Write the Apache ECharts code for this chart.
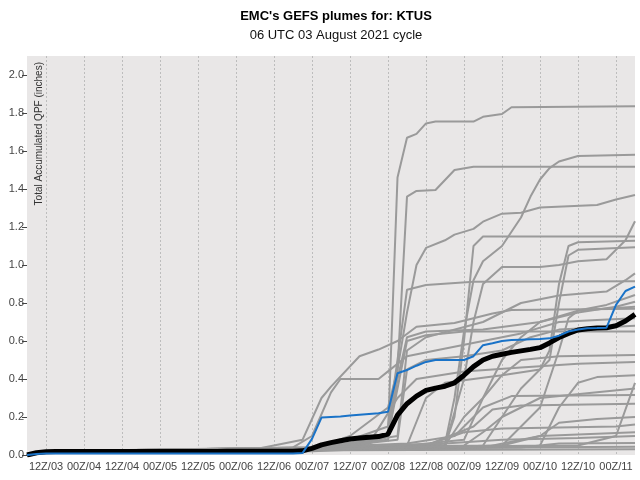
<!DOCTYPE html>
<html>
<head>
<meta charset="utf-8">
<script src="https://cdn.jsdelivr.net/npm/echarts@6/dist/echarts.min.js"></script>
<style>
html,body{margin:0;padding:0;background:#fff;}
#chart{width:640px;height:480px;}
</style>
</head>
<body>
<div id="chart"></div>
<script>
// 3-hourly valid times, 06Z/03 .. 06Z/11
var categories = [
 "06Z/03","09Z/03","12Z/03","15Z/03","18Z/03","21Z/03",
 "00Z/04","03Z/04","06Z/04","09Z/04","12Z/04","15Z/04","18Z/04","21Z/04",
 "00Z/05","03Z/05","06Z/05","09Z/05","12Z/05","15Z/05","18Z/05","21Z/05",
 "00Z/06","03Z/06","06Z/06","09Z/06","12Z/06","15Z/06","18Z/06","21Z/06",
 "00Z/07","03Z/07","06Z/07","09Z/07","12Z/07","15Z/07","18Z/07","21Z/07",
 "00Z/08","03Z/08","06Z/08","09Z/08","12Z/08","15Z/08","18Z/08","21Z/08",
 "00Z/09","03Z/09","06Z/09","09Z/09","12Z/09","15Z/09","18Z/09","21Z/09",
 "00Z/10","03Z/10","06Z/10","09Z/10","12Z/10","15Z/10","18Z/10","21Z/10",
 "00Z/11","03Z/11","06Z/11"
];
var yTicks = [0,0.2,0.4,0.6,0.8,1.0,1.2,1.4,1.6,1.8,2.0];

// ensemble mean (black), 3-hourly
var meanQPF = [0,0.012,0.017,0.018,0.018,0.018,0.018,0.018,0.018,0.018,0.018,0.018,0.018,0.018,0.018,0.018,
 0.018,0.018,0.018,0.018,0.018,0.02,0.02,0.02,0.02,0.02,0.02,0.02,0.02,0.022,0.035,0.053,0.065,0.075,0.084,
 0.089,0.093,0.097,0.11,0.21,0.27,0.31,0.34,0.352,0.362,0.38,0.42,0.465,0.5,0.52,0.53,0.54,0.548,0.556,0.565,
 0.59,0.618,0.64,0.658,0.665,0.668,0.67,0.68,0.705,0.74];
// control (blue), 3-hourly
var ctlQPF = [0,0.005,0.008,0.008,0.008,0.008,0.008,0.008,0.008,0.008,0.008,0.008,0.008,0.008,0.008,0.008,
 0.008,0.008,0.008,0.008,0.008,0.008,0.008,0.008,0.008,0.008,0.008,0.008,0.008,0.01,0.085,0.197,0.2,0.203,0.208,
 0.212,0.216,0.22,0.228,0.43,0.447,0.47,0.49,0.5,0.5,0.5,0.5,0.52,0.578,0.588,0.6,0.605,0.607,0.609,0.611,
 0.614,0.628,0.65,0.66,0.667,0.668,0.67,0.79,0.863,0.886];

// members: [step index (3h), value] at visible break points
var m01 = [[0,0],[2,0.02],[30,0.03],[36,0.07],[38,0.12],[39,1.46],[40,1.67],[41,1.69],[42,1.745],[43,1.755],[47,1.755],[48,1.78],[50,1.795],[51,1.83],[64,1.835]];
var m02 = [[0,0],[2,0.02],[30,0.03],[36,0.06],[38,0.1],[39,0.45],[40,1.36],[41,1.39],[43,1.395],[45,1.5],[47,1.517],[64,1.517]];
var m03 = [[0,0],[2,0.02],[30,0.02],[40,0.04],[44,0.06],[45,0.3],[46,0.65],[47,0.92],[48,1.02],[50,1.1],[52,1.25],[53,1.36],[54,1.45],[55,1.51],[56,1.545],[58,1.574],[64,1.58]];
var m04 = [[0,0],[2,0.02],[30,0.03],[34,0.1],[38,0.25],[39,0.45],[40,0.75],[41,1.0],[42,1.09],[44,1.13],[45,1.16],[47,1.19],[48,1.228],[50,1.27],[52,1.275],[54,1.303],[60,1.316],[62,1.345],[64,1.368]];
var m05 = [[0,0],[2,0.02],[30,0.03],[34,0.08],[38,0.15],[39,0.5],[40,0.87],[42,0.895],[47,0.912],[64,0.915]];
var m06 = [[0,0],[2,0.02],[24,0.03],[29,0.08],[31,0.3],[32,0.36],[35,0.52],[37,0.555],[39,0.6],[41,0.675],[45,0.695],[49,0.745],[51,0.763],[64,0.77]];
var m07 = [[0,0],[2,0.02],[30,0.03],[44,0.05],[45,0.2],[46,0.6],[47,1.1],[48,1.15],[64,1.15]];
var m08 = [[0,0],[2,0.02],[30,0.03],[40,0.05],[42,0.3],[44,0.38],[50,0.42],[54,0.45],[55,0.55],[56,0.9],[57,1.1],[58,1.12],[64,1.128]];
var m09 = [[0,0],[2,0.02],[30,0.03],[44,0.05],[46,0.4],[47,0.7],[48,0.9],[50,0.99],[54,0.99],[56,1.0],[58,1.02],[61,1.03],[63,1.13],[64,1.23]];
var m10 = [[0,0],[2,0.02],[30,0.03],[39,0.1],[40,0.55],[42,0.62],[48,0.7],[52,0.8],[56,0.84],[61,0.86],[63,0.92],[64,0.956]];
var m11 = [[0,0],[2,0.02],[30,0.03],[40,0.05],[46,0.08],[48,0.3],[50,0.5],[52,0.62],[54,0.7],[58,0.76],[61,0.79],[64,0.842]];
var m12 = [[0,0],[2,0.02],[30,0.04],[38,0.08],[39,0.4],[40,0.62],[42,0.65],[48,0.66],[54,0.7],[58,0.75],[62,0.78],[64,0.807]];
var m13 = [[0,0],[2,0.02],[30,0.03],[50,0.05],[52,0.15],[54,0.25],[56,0.55],[57,0.72],[58,0.76],[64,0.78]];
var m14 = [[0,0],[2,0.02],[30,0.03],[39,0.08],[40,0.45],[42,0.5],[46,0.52],[50,0.55],[53,0.62],[56,0.66],[64,0.68]];
var m15 = [[0,0],[2,0.02],[30,0.03],[38,0.1],[39,0.35],[40,0.6],[42,0.63],[46,0.65],[64,0.65]];
var m16 = [[0,0],[2,0.02],[30,0.03],[44,0.05],[46,0.2],[48,0.3],[50,0.42],[52,0.5],[56,0.52],[64,0.526]];
var m17 = [[0,0],[2,0.02],[30,0.04],[36,0.06],[39,0.3],[41,0.4],[46,0.44],[52,0.46],[58,0.48],[64,0.49]];
var m18 = [[0,0],[2,0.02],[30,0.03],[54,0.05],[56,0.25],[58,0.38],[60,0.41],[64,0.42]];
var m19 = [[0,0],[2,0.02],[30,0.03],[46,0.05],[48,0.12],[50,0.2],[54,0.3],[60,0.33],[64,0.35]];
var m20 = [[0,0],[2,0.02],[30,0.04],[40,0.06],[45,0.1],[48,0.25],[51,0.31],[64,0.316]];
var m21 = [[0,0],[2,0.02],[30,0.03],[42,0.05],[47,0.15],[49,0.24],[52,0.26],[64,0.27]];
var m22 = [[0,0],[2,0.02],[30,0.03],[48,0.04],[54,0.1],[56,0.17],[60,0.19],[64,0.2]];
var m23 = [[0,0],[2,0.02],[30,0.03],[42,0.05],[46,0.12],[50,0.14],[62,0.15],[64,0.16]];
var m24 = [[0,0],[2,0.02],[30,0.03],[50,0.05],[54,0.1],[64,0.12]];
var m25 = [[0,0],[2,0.02],[30,0.04],[44,0.06],[50,0.08],[58,0.09],[64,0.1]];
var m26 = [[0,0],[2,0.02],[30,0.03],[52,0.04],[56,0.06],[64,0.063]];
var m27 = [[0,0],[2,0.02],[24,0.03],[50,0.04],[64,0.044]];
var m28 = [[0,0],[2,0.02],[64,0.03]];
var m29 = [[0,0],[2,0.02],[30,0.03],[58,0.05],[62,0.1],[64,0.38]];
var m30 = [[0,0],[2,0.02],[28,0.04],[30,0.1],[32,0.33],[33,0.4],[37,0.4],[38,0.44],[40,0.52],[43,0.55],[48,0.6],[52,0.64],[56,0.7],[60,0.71],[64,0.72]];
var m31 = [[0,0],[2,0.02],[30,0.03],[48,0.05],[50,0.2],[52,0.35],[55,0.5],[56,0.8],[57,1.05],[58,1.08],[64,1.093]];

var members = [m01,m02,m03,m04,m05,m06,m07,m08,m09,m10,m11,m12,m13,m14,m15,m16,m17,m18,m19,m20,m21,m22,m23,m24,m25,m26,m27,m28,m29,m30,m31];

var FONT = "'Liberation Sans', Arial, sans-serif";
var every12h = function (idx) { return idx % 4 === 2; };

var series = members.map(function (m, i) {
  return {
    name: 'm' + (i + 1), type: 'line', data: m, showSymbol: false, symbol: 'none',
    lineStyle: { color: '#9a9a9a', width: 2 }, z: 2, silent: true
  };
});
series.push({ name: 'mean', type: 'line', data: meanQPF, symbol: 'none',
  lineStyle: { color: '#000000', width: 5 }, z: 3, silent: true });
series.push({ name: 'control', type: 'line', data: ctlQPF, symbol: 'none',
  lineStyle: { color: '#1a73c8', width: 2 }, z: 4, silent: true });

var chart = echarts.init(document.getElementById('chart'), null, { renderer: 'canvas' });
chart.setOption({
  animation: false,
  backgroundColor: '#ffffff',
  title: {
    text: "EMC's GEFS plumes for: KTUS",
    subtext: '06 UTC 03 August 2021 cycle',
    left: 331, top: 5, textAlign: 'center', itemGap: 6,
    textStyle: { fontFamily: FONT, fontSize: 13, fontWeight: 'bold', color: '#000' },
    subtextStyle: { fontFamily: FONT, fontSize: 13, color: '#111' }
  },
  grid: { left: 27, right: 5, top: 56, bottom: 25, show: true, backgroundColor: '#e9e7e7', borderWidth: 0 },
  xAxis: {
    type: 'category', data: categories, boundaryGap: false,
    axisLine: { show: false },
    axisTick: { show: false, interval: every12h },
    axisLabel: { interval: every12h, fontFamily: FONT, fontSize: 11, color: '#444', margin: 6 },
    splitLine: { show: true, interval: every12h, lineStyle: { color: '#bdbdbd', type: [2, 2], width: 1 } }
  },
  yAxis: {
    type: 'value', min: 0, max: 2.1,
    axisLine: { show: false },
    axisTick: { show: true, length: 5, customValues: yTicks, lineStyle: { color: '#444' } },
    axisLabel: { customValues: yTicks, fontFamily: FONT, fontSize: 11, color: '#444', margin: 3,
      formatter: function (v) { return v.toFixed(1); } },
    splitLine: { show: false }
  },
  graphic: [{
    type: 'text', x: 39, y: 62, rotation: Math.PI / 2, z: 10,
    style: { text: 'Total Accumulated QPF (inches)', fontFamily: FONT, fontSize: 10, fill: '#333',
      textAlign: 'right', textVerticalAlign: 'middle' }
  }],
  series: series
});
</script>
</body>
</html>
